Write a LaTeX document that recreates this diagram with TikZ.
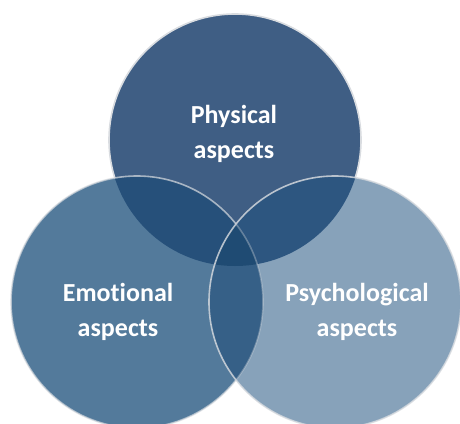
\documentclass[tikz,border=0pt]{standalone}
\usepackage{fontspec}
\setmainfont[RawFeature=-liga]{Carlito}
\definecolor{ctop}{HTML}{3F5E84}
\definecolor{cleft}{HTML}{537A9B}
\definecolor{cright}{HTML}{87A2BA}
\definecolor{ctl}{HTML}{26507A}
\definecolor{ctr}{HTML}{2D5680}
\definecolor{clr}{HTML}{366087}
\definecolor{cctr}{HTML}{1F4B73}
\definecolor{cborder}{HTML}{D9DCE0}
\begin{document}
\begin{tikzpicture}[x=1pt,y=-1pt,
  rim/.style={draw=cborder,line width=1.6pt},
  lbl/.style={text=white,font=\fontsize{26}{35}\selectfont\bfseries,align=center}]
\useasboundingbox (0,0) rectangle (460,423);
\def\R{126}
\coordinate (T) at (235,140);
\coordinate (L) at (137,302);
\coordinate (Rc) at (335,302);
% top
\fill[ctop] (T) circle (\R);
\draw[rim] (T) circle (\R);
% left
\fill[cleft] (L) circle (\R);
\begin{scope}
  \clip (L) circle (\R);
  \fill[ctl] (T) circle (\R);
\end{scope}
\draw[rim,draw opacity=0.7] (L) circle (\R);
% right
\fill[cright] (Rc) circle (\R);
\begin{scope}
  \clip (Rc) circle (\R);
  \fill[ctr] (T) circle (\R);
  \fill[clr] (L) circle (\R);
  \clip (L) circle (\R);
  \fill[cctr] (T) circle (\R);
\end{scope}
\begin{scope}
  \clip (Rc) circle (\R);
  \draw[rim,draw opacity=0.35] (L) circle (\R);
\end{scope}
\draw[rim,draw opacity=0.8] (Rc) circle (\R);
% labels
\node[lbl] (tp) at (234,134) {Physical\\aspects};
\node[lbl] (lf) at (118,312) {Emotional\\aspects};
\node[lbl] (rt) at (357,312) {Psychological\\aspects};
\end{tikzpicture}
\end{document}
